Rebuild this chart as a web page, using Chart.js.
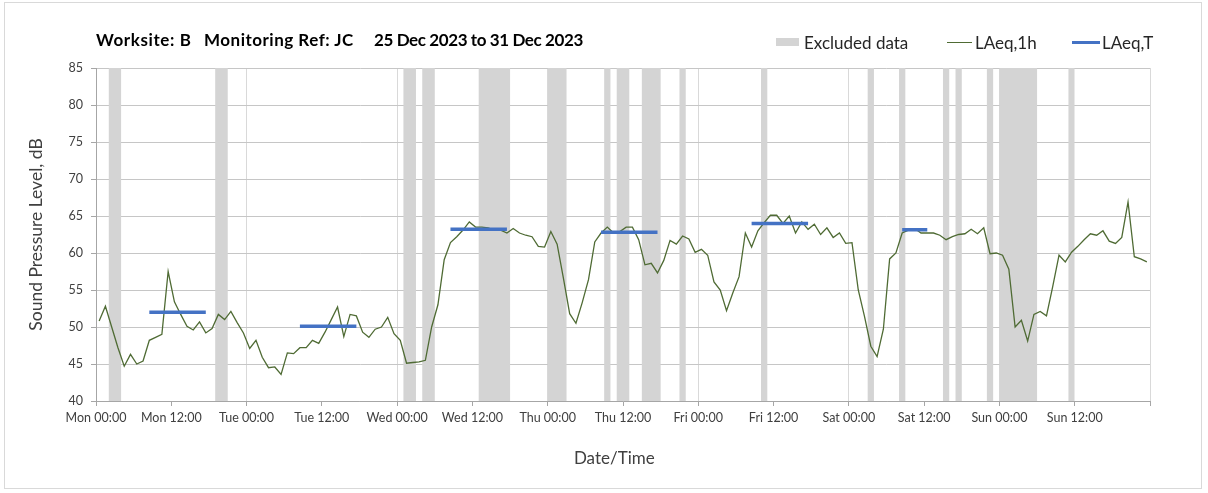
<!DOCTYPE html>
<html><head><meta charset="utf-8">
<script src="https://cdn.jsdelivr.net/npm/chart.js@4.4.1/dist/chart.umd.min.js"></script>
<style>
html,body{margin:0;padding:0;background:#fff;}
#wrap{position:relative;width:1208px;height:493px;overflow:hidden;font-family:Lato,"Open Sans",sans-serif;}
#frame{position:absolute;left:4px;top:2px;width:1198px;height:487px;border:1px solid #d9d9d9;box-sizing:border-box;}
#cv{position:absolute;left:0;top:0;}
.title{position:absolute;top:30px;line-height:19px;font-weight:bold;font-size:17px;color:#000;white-space:nowrap;}
.leg{position:absolute;top:33px;line-height:19px;font-size:17px;color:#262626;white-space:nowrap;}
.sw{position:absolute;}
</style></head>
<body>
<div id="wrap">
<div id="frame"></div>
<canvas id="cv" width="1208" height="493"></canvas>
<span class="title" style="left:96px;letter-spacing:0.6px">Worksite: B</span>
<span class="title" style="left:204px;letter-spacing:0.5px">Monitoring Ref: JC</span>
<span class="title" style="left:374px;letter-spacing:-0.4px">25 Dec 2023 to 31 Dec 2023</span>
<div class="sw" style="left:776px;top:38px;width:23px;height:8px;background:#d4d4d4"></div>
<span class="leg" style="left:804px">Excluded data</span>
<div class="sw" style="left:947px;top:42px;width:25px;height:1px;background:#4f6b34"></div>
<span class="leg" style="left:975px">LAeq,1h</span>
<div class="sw" style="left:1072px;top:41px;width:28px;height:3px;background:#4472c4"></div>
<span class="leg" style="left:1102px">LAeq,T</span>
</div>
<script>
// ---- data ----
const tickLabels = ["Mon 00:00","Mon 12:00","Tue 00:00","Tue 12:00","Wed 00:00","Wed 12:00","Thu 00:00","Thu 12:00","Fri 00:00","Fri 12:00","Sat 00:00","Sat 12:00","Sun 00:00","Sun 12:00",""];
const tickHours = [0,12,24,36,48,60,72,84,96,108,120,132,144,156,168];
// hourly LAeq,1h values (dB), Mon 00:00 onwards
const laeq1h = [
50.8,52.8,50.0,47.2,44.7,46.3,45.0,45.4,48.2,48.6,49.0,57.5,53.4,51.7,50.1,49.6,50.7,49.2,49.8,51.7,51.0,52.1,50.6,49.2,
47.1,48.2,45.9,44.5,44.6,43.6,46.5,46.4,47.2,47.2,48.2,47.8,49.3,51.0,52.7,48.7,51.7,51.5,49.3,48.6,49.7,50.0,51.3,49.1,
48.2,45.1,45.2,45.3,45.5,50.0,53.0,59.1,61.4,62.2,63.1,64.2,63.5,63.5,63.4,63.1,63.1,62.7,63.3,62.7,62.4,62.2,60.9,60.8,
62.9,61.2,56.6,51.8,50.5,53.3,56.4,61.5,62.7,63.5,62.7,62.9,63.5,63.5,61.8,58.4,58.6,57.3,59.0,61.7,61.2,62.3,61.9,60.1,
60.5,59.7,56.1,55.0,52.2,54.6,56.8,62.7,60.8,63.0,64.1,65.1,65.1,64.0,65.0,62.7,64.2,63.2,63.9,62.5,63.4,62.1,62.7,61.3,
61.4,55.0,51.4,47.4,46.0,49.7,59.2,60.0,62.7,63.1,63.3,62.7,62.7,62.7,62.4,61.8,62.2,62.5,62.6,63.2,62.6,63.4,59.9,60.0,
59.7,57.8,50.0,50.9,48.1,51.7,52.1,51.5,55.5,59.7,58.8,60.1,60.9,61.8,62.6,62.4,63.0,61.6,61.3,62.1,66.9,59.5,59.2,58.8
];
// LAeq,T periods (hour index start/end) and levels
const laeqTStart = [8,32,56,80,104,128];
const laeqTEnd   = [17,41,65,89,113,132];
const laeqTValue = [52.0,50.1,63.2,62.8,64.0,63.15];
// excluded data periods (hours since Mon 00:00)
const excludedStart = [2,19,49,52,61,72,81,83,87,93,106,123,128,135,137,142,144,155];
const excludedEnd   = [4,21,51,54,66,75,82,85,90,94,107,124,129,136,138,143,150,156];
const yMin = 40, yMax = 85;

// ---- build datasets ----
const lineData = laeq1h.map((v,i)=>({x:i+0.5,y:v}));
const tData = [];
laeqTStart.forEach((s,i)=>{
  tData.push({x:s+0.5,y:laeqTValue[i]},{x:laeqTEnd[i]+0.5,y:laeqTValue[i]},{x:laeqTEnd[i]+0.5,y:null});
});
const bandData = [];
excludedStart.forEach((s,i)=>{
  const e = excludedEnd[i];
  bandData.push({x:s,y:yMin},{x:s,y:yMax},{x:e,y:yMax},{x:e,y:yMin});
});

const FONT = 'Lato, "Open Sans", sans-serif';
new Chart(document.getElementById('cv'), {
  type:'line',
  data:{datasets:[
    {label:'LAeq,T',data:tData,borderColor:'#4472c4',borderWidth:3.5,pointRadius:0,tension:0,spanGaps:false,order:1,borderCapStyle:'butt'},
    {label:'LAeq,1h',data:lineData,borderColor:'#4f6b34',borderWidth:1.3,pointRadius:0,tension:0,order:2},
    {label:'Excluded data',data:bandData,borderWidth:0,borderColor:'rgba(0,0,0,0)',backgroundColor:'#d4d4d4',fill:'start',pointRadius:0,tension:0,order:3}
  ]},
  options:{
    responsive:false,animation:false,
    layout:{padding:{top:68,right:58,left:0,bottom:0}},
    plugins:{legend:{display:false},tooltip:{enabled:false},title:{display:false}},
    scales:{
      x:{type:'linear',min:0,max:168,
        afterBuildTicks:(s)=>{s.ticks=tickHours.map(v=>({value:v}));},
        afterFit:(s)=>{s.height=92;},
        ticks:{autoSkip:false,maxRotation:0,minRotation:0,padding:4,color:'#404040',font:{family:FONT,size:12.5},
          callback:(v)=>{const i=tickHours.indexOf(v);return i>=0?tickLabels[i]:'';}},
        grid:{color:(c)=>(c.tick && c.tick.value%24===0)?'#d9d9d9':'rgba(0,0,0,0)',tickColor:'#a6a6a6',tickLength:5,lineWidth:1},
        border:{color:'#a6a6a6'},
        title:{display:true,text:'Date/Time\u00a0\u00a0\u00a0\u00a0',color:'#404040',font:{family:FONT,size:17},padding:{top:0,bottom:24}}
      },
      y:{min:yMin,max:yMax,
        afterFit:(s)=>{s.width=96;},
        ticks:{stepSize:5,padding:8,color:'#404040',font:{family:FONT,size:12.5}},
        grid:{color:'#c6c6c6',tickColor:'#a6a6a6',tickLength:5},
        border:{color:'#a6a6a6'},
        title:{display:true,text:'Sound Pressure Level, dB',color:'#404040',font:{family:FONT,size:17.5},padding:{top:26,bottom:0}}
      }
    }
  }
});
</script>
</body></html>
